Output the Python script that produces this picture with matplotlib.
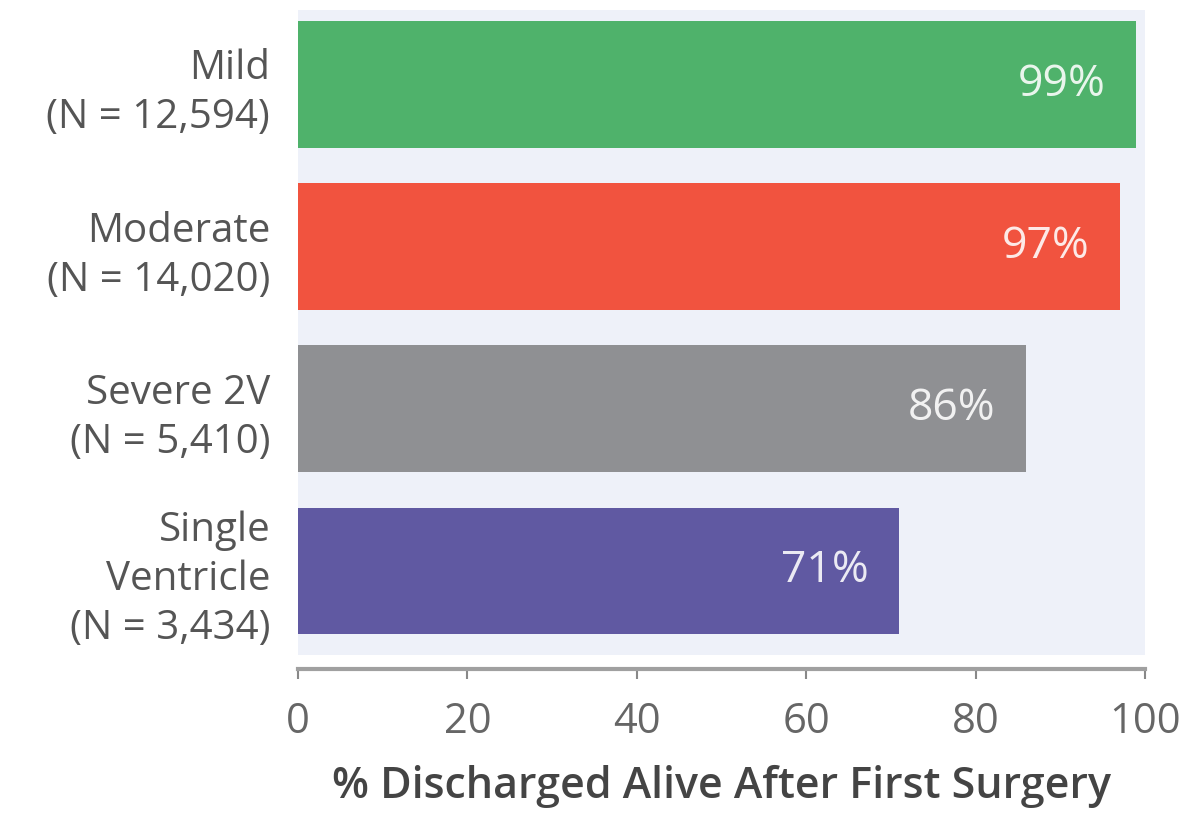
import matplotlib.pyplot as plt

groups = ['Mild\n(N = 12,594)', 'Moderate\n(N = 14,020)',
          'Severe 2V\n(N = 5,410)', 'Single\nVentricle\n(N = 3,434)']
discharged_pct = [99, 97, 86, 71]
bar_colors = ['#4fb26b', '#f1533f', '#8f9093', '#6059a2']
x_ticks = [0, 20, 40, 60, 80, 100]

plt.rcParams['font.family'] = ['Open Sans', 'DejaVu Sans']

fig = plt.figure(figsize=(11.92, 8.15), dpi=100)
ax = fig.add_axes([0.25, 0.196, 0.7105, 0.792])
ax.set_facecolor('#eef1f9')

# spine first: moving it resets the tick objects
for side in ['top', 'right', 'left']:
    ax.spines[side].set_visible(False)
ax.spines['bottom'].set_position(('outward', 10))
ax.spines['bottom'].set_color('#a0a0a0')
ax.spines['bottom'].set_linewidth(3)

ypos = list(range(len(groups)))
ax.barh(ypos, discharged_pct, height=0.78, color=bar_colors)

for y, v in zip(ypos, discharged_pct):
    ax.text(v - 3.6, y, f'{v}%', ha='right', va='center',
            color='white', fontsize=32, alpha=0.88)

ax.set_ylim(3.52, -0.46)
ax.set_xlim(0, 100)
ax.set_yticks(ypos)
ax.set_yticklabels(groups, linespacing=1.28)
ax.set_xticks(x_ticks)
ax.set_xticklabels([str(t) for t in x_ticks])
ax.tick_params(axis='y', length=0, pad=20, labelsize=29, labelcolor='#555555')
ax.tick_params(axis='x', length=7, width=1.5, color='#888888', pad=16,
               labelsize=30, labelcolor='#666666')

ax.set_xlabel('% Discharged Alive After First Surgery', fontsize=31,
              color='#444444', fontweight='semibold', labelpad=16)

fig.savefig('out.png', dpi=100, facecolor='white')
